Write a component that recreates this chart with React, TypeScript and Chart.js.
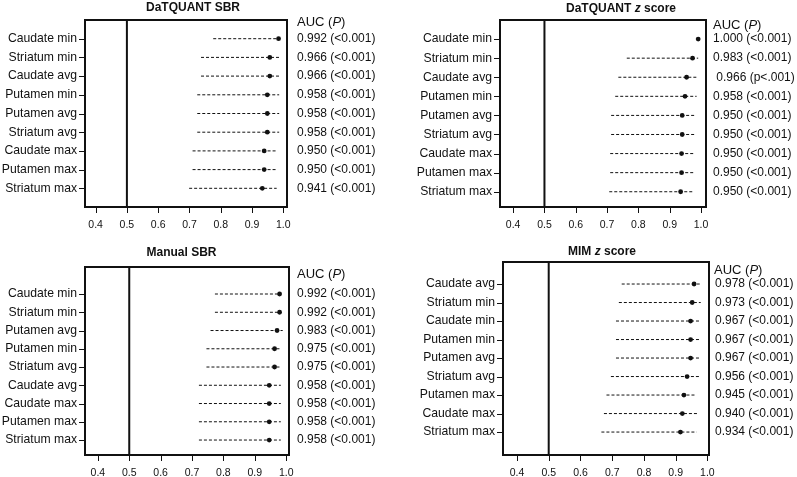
import React, { useEffect, useRef } from "react";
import { Chart, registerables } from "chart.js";

Chart.register(...registerables);

const FONT = 'Arial, "Liberation Sans", Helvetica, sans-serif';

// ---------- data ----------
const xTickValues = [0.4, 0.5, 0.6, 0.7, 0.8, 0.9, 1.0];
const referenceAuc = 0.5;

const labels1 = ["Caudate min", "Striatum min", "Caudate avg", "Putamen min", "Putamen avg", "Striatum avg", "Caudate max", "Putamen max", "Striatum max"];
const point1 = [0.985, 0.957, 0.957, 0.949, 0.949, 0.949, 0.939, 0.939, 0.933];
const lower1 = [0.776, 0.737, 0.737, 0.725, 0.725, 0.725, 0.71, 0.71, 0.699];
const upper1 = [0.989, 0.989, 0.989, 0.987, 0.987, 0.987, 0.979, 0.979, 0.979];
const aucText1 = ["0.992 (<0.001)", "0.966 (<0.001)", "0.966 (<0.001)", "0.958 (<0.001)", "0.958 (<0.001)", "0.958 (<0.001)", "0.950 (<0.001)", "0.950 (<0.001)", "0.941 (<0.001)"];

const labels2 = ["Caudate min", "Striatum min", "Caudate avg", "Putamen min", "Putamen avg", "Striatum avg", "Caudate max", "Putamen max", "Striatum max"];
const point2 = [0.991, 0.973, 0.954, 0.949, 0.94, 0.94, 0.938, 0.938, 0.935];
const lower2 = [0.991, 0.763, 0.736, 0.726, 0.713, 0.713, 0.71, 0.71, 0.707];
const upper2 = [0.991, 0.991, 0.986, 0.986, 0.981, 0.981, 0.978, 0.978, 0.976];
const aucText2 = ["1.000 (<0.001)", "0.983 (<0.001)", " 0.966 (p<.001)", "0.958 (<0.001)", "0.950 (<0.001)", "0.950 (<0.001)", "0.950 (<0.001)", "0.950 (<0.001)", "0.950 (<0.001)"];

const labels3 = ["Caudate min", "Striatum min", "Putamen avg", "Putamen min", "Striatum avg", "Caudate avg", "Caudate max", "Putamen max", "Striatum max"];
const point3 = [0.979, 0.979, 0.971, 0.963, 0.963, 0.946, 0.946, 0.946, 0.946];
const lower3 = [0.773, 0.773, 0.759, 0.746, 0.746, 0.722, 0.722, 0.722, 0.722];
const upper3 = [0.982, 0.984, 0.989, 0.979, 0.979, 0.983, 0.983, 0.983, 0.983];
const aucText3 = ["0.992 (<0.001)", "0.992 (<0.001)", "0.983 (<0.001)", "0.975 (<0.001)", "0.975 (<0.001)", "0.958 (<0.001)", "0.958 (<0.001)", "0.958 (<0.001)", "0.958 (<0.001)"];

const labels4 = ["Caudate avg", "Striatum min", "Caudate min", "Putamen min", "Putamen avg", "Striatum avg", "Putamen max", "Caudate max", "Striatum max"];
const point4 = [0.958, 0.952, 0.947, 0.947, 0.947, 0.936, 0.926, 0.921, 0.915];
const lower4 = [0.73, 0.721, 0.712, 0.712, 0.712, 0.696, 0.682, 0.674, 0.666];
const upper4 = [0.977, 0.979, 0.977, 0.977, 0.977, 0.974, 0.963, 0.97, 0.966];
const aucText4 = ["0.978 (<0.001)", "0.973 (<0.001)", "0.967 (<0.001)", "0.967 (<0.001)", "0.967 (<0.001)", "0.956 (<0.001)", "0.945 (<0.001)", "0.940 (<0.001)", "0.934 (<0.001)"];

type Part = { t: string; bold?: boolean; italic?: boolean };

const title1: Part[] = [{ t: "DaTQUANT SBR", bold: true }];
const title2: Part[] = [{ t: "DaTQUANT ", bold: true }, { t: "z", bold: true, italic: true }, { t: " score", bold: true }];
const title3: Part[] = [{ t: "Manual SBR", bold: true }];
const title4: Part[] = [{ t: "MIM ", bold: true }, { t: "z", bold: true, italic: true }, { t: " score", bold: true }];
const header: Part[] = [{ t: "AUC (" }, { t: "P", italic: true }, { t: ")" }];

// ---------- layout ----------
type Panel = {
  left: number; top: number; w: number; h: number;
  box: { left: number; right: number; top: number; bottom: number };
  xMin: number; xMax: number; yMin: number; yMax: number;
  titleX: number; titleY: number; headX: number; headY: number; aucPad: number;
  title: Part[]; labels: string[]; point: number[]; lower: number[]; upper: number[]; auc: string[];
};

const panels: Panel[] = [
  { left: 0, top: 0, w: 400, h: 235, box: { left: 85, right: 287, top: 20, bottom: 207 }, xMin: 0.366, xMax: 1.012, yMin: 0, yMax: 10,
    titleX: 193, titleY: 8, headX: 297, headY: 22.5, aucPad: 10, title: title1, labels: labels1, point: point1, lower: lower1, upper: upper1, auc: aucText1 },
  { left: 400, top: 0, w: 397, h: 235, box: { left: 100, right: 306, top: 20, bottom: 207 }, xMin: 0.358, xMax: 1.016, yMin: 0, yMax: 9.8,
    titleX: 221, titleY: 8.5, headX: 313, headY: 25, aucPad: 7, title: title2, labels: labels2, point: point2, lower: lower2, upper: upper2, auc: aucText2 },
  { left: 0, top: 235, w: 400, h: 242, box: { left: 85, right: 289, top: 32, bottom: 220 }, xMin: 0.359, xMax: 1.009, yMin: -0.48, yMax: 9.82,
    titleX: 181.5, titleY: 18, headX: 297, headY: 39.5, aucPad: 8, title: title3, labels: labels3, point: point3, lower: lower3, upper: upper3, auc: aucText3 },
  { left: 400, top: 235, w: 397, h: 242, box: { left: 103, right: 309, top: 27, bottom: 220 }, xMin: 0.356, xMax: 1.005, yMin: -0.19, yMax: 10.24,
    titleX: 202, titleY: 17, headX: 314, headY: 35, aucPad: 6, title: title4, labels: labels4, point: point4, lower: lower4, upper: upper4, auc: aucText4 },
];

function fontFor(p: Part, size: number) {
  return `${p.italic ? "italic " : ""}${p.bold ? "bold " : ""}${size}px ${FONT}`;
}

function drawParts(ctx: CanvasRenderingContext2D, parts: Part[], x: number, y: number, size: number, align: "center" | "left") {
  let total = 0;
  for (const p of parts) { ctx.font = fontFor(p, size); total += ctx.measureText(p.t).width; }
  let cx = align === "center" ? x - total / 2 : x;
  ctx.textBaseline = "middle";
  ctx.textAlign = "left";
  ctx.fillStyle = "#111";
  for (const p of parts) {
    ctx.font = fontFor(p, size);
    ctx.fillText(p.t, cx, y);
    cx += ctx.measureText(p.t).width;
  }
}

function buildChart(canvas: HTMLCanvasElement, P: Panel) {
  const rows = P.labels.map((_, i) => i + 1);
  const ciSets = P.labels.map((_, i) => ({
    data: [{ x: P.lower[i], y: i + 1 }, { x: P.upper[i], y: i + 1 }],
    showLine: true, borderColor: "#111", borderWidth: 1, borderDash: [3, 2], pointRadius: 0,
  }));
  const refSet = {
    data: [{ x: referenceAuc, y: P.yMin }, { x: referenceAuc, y: P.yMax }],
    showLine: true, borderColor: "#111", borderWidth: 2, pointRadius: 0,
  };
  const ptSet = {
    data: P.point.map((v, i) => ({ x: v, y: i + 1 })),
    showLine: false, pointRadius: 2.4, backgroundColor: "#111", borderWidth: 0, pointStyle: "circle",
  };
  const frame = {
    id: "frame",
    afterDraw(chart: any) {
      const { ctx, chartArea: a } = chart;
      const xs = chart.scales.x;
      const ys = chart.scales.y;
      ctx.save();
      ctx.strokeStyle = "#111";
      ctx.lineWidth = 1;
      ctx.beginPath();
      for (const v of xTickValues) {
        const px = Math.round(xs.getPixelForValue(v)) + 0.5;
        ctx.moveTo(px, a.bottom + 1);
        ctx.lineTo(px, a.bottom + 6);
      }
      for (const r of rows) {
        const py = Math.round(ys.getPixelForValue(r)) + 0.5;
        ctx.moveTo(a.left - 6, py);
        ctx.lineTo(a.left - 1, py);
      }
      ctx.stroke();
      ctx.lineWidth = 2;
      ctx.strokeRect(a.left, a.top, a.right - a.left, a.bottom - a.top);
      drawParts(ctx, P.title, P.titleX, P.titleY, 12, "center");
      drawParts(ctx, header, P.headX, P.headY, 13, "left");
      ctx.restore();
    },
  };
  return new Chart(canvas, {
    type: "scatter",
    data: { datasets: [refSet, ...ciSets, ptSet] as any },
    options: {
      animation: false,
      responsive: false,
      devicePixelRatio: 1,
      layout: { padding: { top: P.box.top, left: 0, right: 0, bottom: 0 } },
      plugins: { legend: { display: false }, tooltip: { enabled: false }, title: { display: false } },
      scales: {
        x: {
          type: "linear", min: P.xMin, max: P.xMax,
          afterBuildTicks: (ax: any) => { ax.ticks = xTickValues.map((v) => ({ value: v })); },
          afterFit: (ax: any) => { ax.height = P.h - P.box.bottom; },
          ticks: { callback: (v: any) => Number(v).toFixed(1), font: { family: FONT, size: 10.5 }, color: "#111", padding: 7, maxRotation: 0, autoSkip: false },
          grid: { display: false, drawOnChartArea: false, drawTicks: true, tickLength: 5 },
          border: { display: false },
        },
        y: {
          type: "linear", reverse: true, min: P.yMin, max: P.yMax, position: "left",
          afterBuildTicks: (ax: any) => { ax.ticks = rows.map((v) => ({ value: v })); },
          afterFit: (ax: any) => { ax.width = P.box.left; },
          ticks: { callback: (v: any) => P.labels[Math.round(v) - 1] ?? "", font: { family: FONT, size: 12.2 }, color: "#111", padding: 2, autoSkip: false },
          grid: { display: false, drawOnChartArea: false, drawTicks: true, tickLength: 6 },
          border: { display: false },
        },
        y2: {
          axis: "y", type: "linear", reverse: true, min: P.yMin, max: P.yMax, position: "right",
          afterBuildTicks: (ax: any) => { ax.ticks = rows.map((v) => ({ value: v })); },
          afterFit: (ax: any) => { ax.width = P.w - P.box.right; },
          ticks: { callback: (v: any) => P.auc[Math.round(v) - 1] ?? "", font: { family: FONT, size: 12 }, color: "#111", padding: P.aucPad, autoSkip: false },
          grid: { display: false, drawTicks: false },
          border: { display: false },
        },
      } as any,
    },
    plugins: [frame],
  });
}

function PanelChart({ P }: { P: Panel }) {
  const ref = useRef<HTMLCanvasElement | null>(null);
  useEffect(() => {
    if (!ref.current) return;
    const chart = buildChart(ref.current, P);
    return () => chart.destroy();
  }, [P]);
  return (
    <canvas
      ref={ref}
      width={P.w}
      height={P.h}
      style={{ position: "absolute", left: P.left, top: P.top, width: P.w, height: P.h }}
    />
  );
}

export default function App() {
  return (
    <div style={{ position: "absolute", left: 0, top: 0, width: 797, height: 477, background: "#fff" }}>
      {panels.map((P, i) => (
        <PanelChart key={i} P={P} />
      ))}
    </div>
  );
}
